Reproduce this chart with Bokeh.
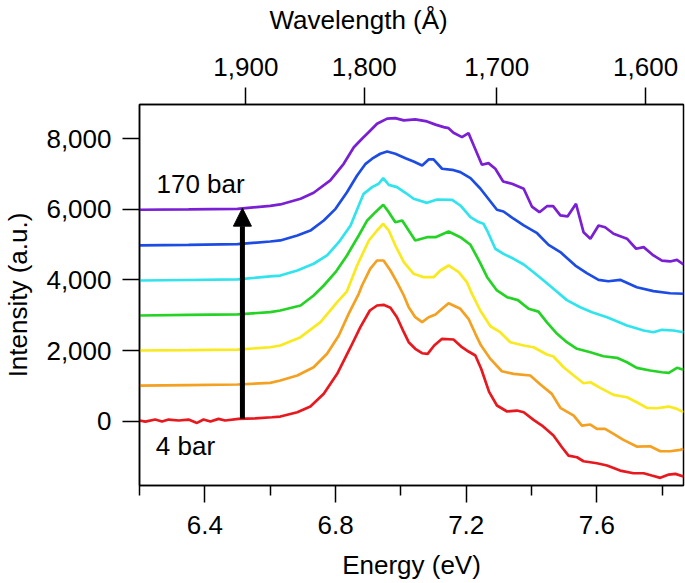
from bokeh.plotting import figure
from bokeh.models import (LinearAxis, FixedTicker, NumeralTickFormatter, CustomJSTickFormatter,
                          Range1d, Label, Arrow, NormalHead, Title)
from bokeh.embed import file_html
from bokeh.resources import INLINE

FONT = "Liberation Sans"

# ---- data ----
colors = ["#e8191e", "#f4a021", "#f8ea1e", "#25d325", "#30e4ee", "#1d4ce4", "#7a1fd4"]

red_E = [6.200, 6.218, 6.248, 6.269, 6.289, 6.320, 6.350, 6.376, 6.396, 6.417, 6.442, 6.462, 6.503,
         6.554, 6.605, 6.631, 6.683, 6.723, 6.764, 6.805, 6.846, 6.876, 6.905, 6.927, 6.947, 6.968,
         6.988, 7.009, 7.024, 7.044, 7.065, 7.082, 7.102, 7.126, 7.161, 7.187, 7.207, 7.228, 7.246,
         7.270, 7.294, 7.325, 7.355, 7.376, 7.406, 7.432, 7.467, 7.493, 7.513, 7.539, 7.559, 7.600,
         7.631, 7.671, 7.712, 7.743, 7.768, 7.794, 7.820, 7.840, 7.865]
red_I = [20, -9, 48, -9, 48, 20, 48, -47, 48, -9, 67, 20, 67, 80, 113, 133, 255, 416, 776, 1343,
         2096, 2663, 3136, 3278, 3297, 3212, 2946, 2521, 2238, 2051, 1926, 1909, 2144, 2334, 2314,
         2096, 1974, 1861, 1480, 830, 445, 275, 303, 255, 40, -122, -405, -737, -972, -1020, -1133,
         -1190, -1255, -1397, -1473, -1473, -1538, -1603, -1510, -1490, -1567]

orange_E = [6.20, 6.35, 6.50, 6.60, 6.631, 6.683, 6.733, 6.774, 6.810, 6.840, 6.871, 6.881, 6.906,
            6.927, 6.947, 6.968, 6.988, 7.009, 7.024, 7.044, 7.065, 7.085, 7.106, 7.126, 7.146,
            7.182, 7.207, 7.228, 7.245, 7.274, 7.309, 7.345, 7.396, 7.427, 7.462, 7.488, 7.529,
            7.554, 7.580, 7.600, 7.625, 7.651, 7.681, 7.722, 7.763, 7.794, 7.824, 7.855, 7.865]
orange_I = [1011, 1025, 1040, 1088, 1153, 1295, 1530, 1909, 2428, 3042, 3609, 3844, 4317, 4552,
            4552, 4269, 3938, 3561, 3229, 2946, 2805, 2946, 3023, 3184, 3343, 3184, 2901, 2476,
            2150, 1765, 1416, 1343, 1295, 1040, 776, 380, 161, -122, -93, -215, -215, -357, -527,
            -717, -708, -850, -850, -810, -782]

yellow_E = [6.20, 6.35, 6.50, 6.60, 6.631, 6.693, 6.754, 6.805, 6.835, 6.866, 6.902, 6.927, 6.946,
            6.963, 6.983, 7.009, 7.039, 7.070, 7.100, 7.121, 7.146, 7.177, 7.202, 7.218, 7.243,
            7.274, 7.304, 7.335, 7.376, 7.406, 7.447, 7.467, 7.498, 7.529, 7.559, 7.580, 7.610,
            7.651, 7.692, 7.722, 7.753, 7.783, 7.820, 7.845, 7.865]
yellow_I = [2003, 2015, 2030, 2095, 2144, 2380, 2805, 3371, 3680, 4411, 5119, 5402, 5592, 5402,
            4977, 4504, 4176, 4079, 4079, 4269, 4411, 4221, 3938, 3600, 3136, 2690, 2521, 2238,
            2144, 2096, 1890, 1833, 1530, 1295, 1076, 1105, 946, 748, 680, 538, 380, 368, 416,
            351, 255]

green_E = [6.20, 6.35, 6.50, 6.60, 6.631, 6.693, 6.733, 6.764, 6.800, 6.835, 6.871, 6.897, 6.922,
           6.946, 6.963, 6.983, 7.004, 7.024, 7.044, 7.080, 7.106, 7.146, 7.182, 7.213, 7.243,
           7.264, 7.294, 7.325, 7.358, 7.391, 7.421, 7.447, 7.478, 7.508, 7.539, 7.580, 7.620,
           7.661, 7.692, 7.722, 7.763, 7.799, 7.820, 7.845, 7.865]
green_I = [2995, 3010, 3025, 3090, 3136, 3278, 3560, 3844, 4221, 4694, 5261, 5686, 5921, 6130,
           5921, 5637, 5686, 5402, 5119, 5212, 5212, 5374, 5212, 4997, 4480, 4079, 3703, 3513,
           3430, 3184, 3105, 2800, 2476, 2238, 2051, 1955, 1841, 1796, 1671, 1513, 1436, 1388,
           1371, 1513, 1456]

cyan_E = [6.20, 6.35, 6.50, 6.60, 6.631, 6.683, 6.733, 6.774, 6.810, 6.846, 6.871, 6.886, 6.912,
          6.932, 6.946, 6.963, 6.988, 7.014, 7.039, 7.080, 7.111, 7.157, 7.182, 7.213, 7.238,
          7.253, 7.264, 7.289, 7.314, 7.345, 7.376, 7.406, 7.437, 7.467, 7.508, 7.549, 7.585,
          7.631, 7.692, 7.743, 7.773, 7.799, 7.834, 7.865]
cyan_I = [3985, 4000, 4015, 4100, 4125, 4270, 4460, 4695, 5070, 5545, 6110, 6440, 6630, 6725,
          6885, 6695, 6630, 6470, 6300, 6185, 6280, 6270, 6110, 5780, 5640, 5590, 5400, 4885,
          4740, 4600, 4440, 4220, 3985, 3750, 3430, 3230, 3088, 2946, 2711, 2569, 2521, 2589,
          2569, 2521]

blue_E = [6.20, 6.35, 6.50, 6.60, 6.631, 6.683, 6.723, 6.764, 6.800, 6.835, 6.866, 6.892, 6.912,
          6.937, 6.958, 6.983, 7.014, 7.039, 7.065, 7.085, 7.100, 7.126, 7.157, 7.182, 7.213,
          7.243, 7.294, 7.314, 7.345, 7.376, 7.417, 7.452, 7.488, 7.534, 7.569, 7.605, 7.635,
          7.671, 7.722, 7.773, 7.824, 7.865]
blue_I = [4980, 4995, 5015, 5090, 5120, 5260, 5400, 5685, 6015, 6485, 6960, 7290, 7435, 7575,
          7640, 7575, 7450, 7355, 7245, 7415, 7415, 7150, 7120, 7055, 6885, 6590, 5990, 5940,
          5735, 5545, 5325, 4995, 4790, 4410, 4195, 4005, 3965, 4005, 3795, 3685, 3625, 3610]

purple_E = [6.20, 6.35, 6.50, 6.60, 6.631, 6.693, 6.733, 6.784, 6.825, 6.856, 6.881, 6.902, 6.927,
            6.958, 6.983, 7.009, 7.044, 7.080, 7.106, 7.131, 7.146, 7.161, 7.187, 7.207, 7.223,
            7.248, 7.268, 7.289, 7.313, 7.340, 7.376, 7.401, 7.424, 7.447, 7.466, 7.488, 7.510,
            7.536, 7.559, 7.580, 7.605, 7.625, 7.651, 7.692, 7.720, 7.743, 7.773, 7.799, 7.824,
            7.845, 7.865]
purple_I = [5990, 6000, 6015, 6100, 6140, 6300, 6470, 6820, 7290, 7760, 8000, 8190, 8425, 8570,
            8585, 8520, 8550, 8490, 8400, 8330, 8300, 8170, 8045, 8160, 7810, 7265, 7310, 7150,
            6790, 6725, 6585, 6080, 5920, 6090, 6090, 5830, 5800, 6160, 5355, 5170, 5545, 5495,
            5310, 5170, 4885, 4930, 4695, 4550, 4525, 4570, 4440]

series_E = [red_E, orange_E, yellow_E, green_E, cyan_E, blue_E, purple_E]
series_I = [red_I, orange_I, yellow_I, green_I, cyan_I, blue_I, purple_I]

energy_ticks = [6.4, 6.8, 7.2, 7.6]
energy_minor = [6.2, 6.6, 7.0, 7.4, 7.8]
intensity_ticks = [0, 2000, 4000, 6000, 8000]
wavelength_ticks = [1900, 1800, 1700, 1600]
HC = 12398.42  # eV * Angstrom

arrow_energy = 6.515
arrow_from = 70
arrow_to = 6035
label_hi = (6.252, 6720, "170 bar")
label_lo = (6.250, -700, "4 bar")

# ---- figure ----
p = figure(width=685, height=583, output_backend="svg", toolbar_location=None,
           x_range=Range1d(6.2, 7.865), y_range=Range1d(-1820, 8970),
           x_axis_location=None, y_axis_location=None,
           min_border_left=139, min_border_right=2, min_border_top=104, min_border_bottom=98)
p.xgrid.visible = False
p.ygrid.visible = False
p.outline_line_color = "black"
p.outline_line_width = 1.5
p.outline_line_alpha = 1.0
p.background_fill_color = "white"
p.border_fill_color = "white"


def style_axis(ax):
    ax.axis_line_color = "black"
    ax.axis_line_width = 1.5
    ax.major_tick_line_color = "black"
    ax.major_tick_line_width = 1.5
    ax.minor_tick_line_color = "black"
    ax.minor_tick_line_width = 1.5
    ax.major_tick_in = 0
    ax.major_tick_out = 17
    ax.minor_tick_in = 0
    ax.minor_tick_out = 10
    ax.major_label_text_font = FONT
    ax.major_label_text_font_size = "26px"
    ax.major_label_text_color = "black"
    ax.axis_label_text_font = FONT
    ax.axis_label_text_font_size = "26px"
    ax.axis_label_text_font_style = "normal"
    ax.axis_label_text_color = "black"


xb = LinearAxis(ticker=FixedTicker(ticks=energy_ticks, minor_ticks=energy_minor),
                axis_label="Energy (eV)")
style_axis(xb)
xb.major_label_standoff = 13
xb.axis_label_standoff = 13
p.add_layout(xb, "below")

yl = LinearAxis(ticker=FixedTicker(ticks=intensity_ticks, minor_ticks=[]),
                formatter=NumeralTickFormatter(format="0,0"),
                axis_label="Intensity (a.u.)")
style_axis(yl)
yl.major_label_standoff = 11
yl.axis_label_standoff = 10
p.add_layout(yl, "left")

xt = LinearAxis(ticker=FixedTicker(ticks=[HC / w for w in wavelength_ticks], minor_ticks=[]),
                formatter=CustomJSTickFormatter(
                    code="return Math.round(%f / tick).toLocaleString('en-US');" % HC))
style_axis(xt)
xt.major_label_standoff = 12
p.add_layout(xt, "above")

# blank spacer band (white on white) between the wavelength tick labels and the axis title
spacer = LinearAxis(ticker=FixedTicker(ticks=[7.85], minor_ticks=[]),
                    formatter=CustomJSTickFormatter(code="return '';"),
                    axis_line_color=None,
                    major_tick_line_color="white", major_tick_line_width=1,
                    minor_tick_line_color=None,
                    major_tick_in=0, major_tick_out=19, minor_tick_in=0, minor_tick_out=0,
                    major_label_standoff=0, major_label_text_font_size="1px",
                    major_label_text_color="white")
p.add_layout(spacer, "above")

p.title = Title(text="Wavelength (Å)", align="left", offset=130,
                text_font=FONT, text_font_size="26px", text_font_style="normal",
                text_color="black", standoff=1)

for E, I, c in zip(series_E, series_I, colors):
    p.line(E, I, line_color=c, line_width=2.7)

p.add_layout(Arrow(end=NormalHead(size=18, fill_color="black", line_color="black", line_width=1),
                   x_start=arrow_energy, y_start=arrow_from, x_end=arrow_energy, y_end=arrow_to,
                   line_color="black", line_width=5))

for (lx, ly, lt) in (label_hi, label_lo):
    p.add_layout(Label(x=lx, y=ly, text=lt, text_font=FONT, text_font_size="26px",
                       text_color="black", text_baseline="alphabetic"))

open("out.html", "w").write(file_html(p, INLINE))
